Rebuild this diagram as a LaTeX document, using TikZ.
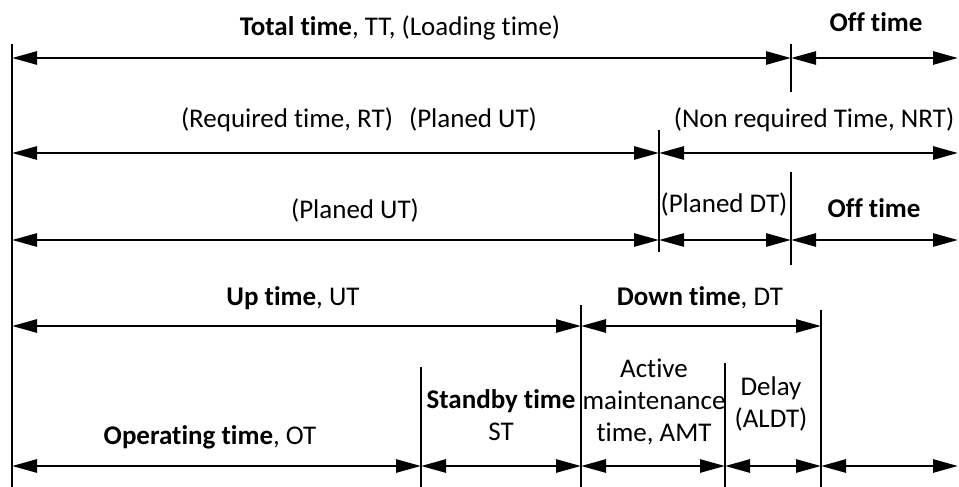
\documentclass[tikz,border=0pt]{standalone}
\usepackage{fontspec}
\setmainfont{Carlito}[Ligatures={NoCommon}]
\usetikzlibrary{arrows.meta}
\begin{document}
\begin{tikzpicture}[x=1pt,y=-1pt,
  span/.style={line width=2.7pt,
    {Triangle[length=25pt,width=13pt]}-{Triangle[length=25pt,width=13pt]}},
  tick/.style={line width=1.3pt},
  lbl/.style={inner sep=0pt,anchor=base,font=\fontsize{27}{32}\selectfont}]
\useasboundingbox (0,0) rectangle (959,487);

% time axis origin and boundary ticks
\coordinate (axTop) at (12,44);   \coordinate (axBot) at (12,487);
\coordinate (t1a) at (791,44);    \coordinate (t1b) at (791,92);
\coordinate (t2a) at (659,130);   \coordinate (t2b) at (659,252);
\coordinate (t3a) at (791,172);   \coordinate (t3b) at (791,265);
\coordinate (t4a) at (581,305);   \coordinate (t4b) at (581,487);
\coordinate (t5a) at (821,310);   \coordinate (t5b) at (821,487);
\coordinate (t6a) at (421,367);   \coordinate (t6b) at (421,487);
\coordinate (t7a) at (725,363);   \coordinate (t7b) at (725,487);
\draw[tick] (axTop) -- (axBot);
\draw[tick] (t1a) -- (t1b);
\draw[tick] (t2a) -- (t2b);
\draw[tick] (t3a) -- (t3b);
\draw[tick] (t4a) -- (t4b);
\draw[tick] (t5a) -- (t5b);
\draw[tick] (t6a) -- (t6b);
\draw[tick] (t7a) -- (t7b);

% row 1: total time / off time
\coordinate (r1L) at (12,58);  \coordinate (r1M) at (791,58); \coordinate (r1R) at (958,58);
\draw[span] (r1L) -- (r1M);
\draw[span] (r1M) -- (r1R);
\node[lbl] (tt) at (400,36) {\textbf{Total time}, TT, (Loading time)};
\node[lbl] (off1) at (876,32) {\textbf{Off time}};

% row 2: required / non required time
\coordinate (r2L) at (12,153); \coordinate (r2M) at (659,153); \coordinate (r2R) at (958,153);
\draw[span] (r2L) -- (r2M);
\draw[span] (r2M) -- (r2R);
\node[lbl] (rt) at (287,128) {(Required time, RT)};
\node[lbl] (put1) at (473,128) {(Planed UT)};
\node[lbl] (nrt) at (814,128) {(Non required Time, NRT)};

% row 3: planned up / planned down / off time
\coordinate (r3L) at (12,240); \coordinate (r3M) at (659,240);
\coordinate (r3N) at (791,240); \coordinate (r3R) at (958,240);
\draw[span] (r3L) -- (r3M);
\draw[span] (r3M) -- (r3N);
\draw[span] (r3N) -- (r3R);
\node[lbl] (put2) at (355,218) {(Planed UT)};
\node[lbl] (pdt) at (724,212) {(Planed DT)};
\node[lbl] (off2) at (874,217) {\textbf{Off time}};

% row 4: up time / down time
\coordinate (r4L) at (12,326); \coordinate (r4M) at (581,326); \coordinate (r4R) at (821,326);
\draw[span] (r4L) -- (r4M);
\draw[span] (r4M) -- (r4R);
\node[lbl] (ut) at (293,305) {\textbf{Up time}, UT};
\node[lbl] (dt) at (700,305) {\textbf{Down time}, DT};

% row 5: breakdown of up and down time
\coordinate (r5L) at (12,466);  \coordinate (r5A) at (421,466);
\coordinate (r5B) at (581,466); \coordinate (r5C) at (725,466);
\coordinate (r5D) at (821,466); \coordinate (r5R) at (958,466);
\draw[span] (r5L) -- (r5A);
\draw[span] (r5A) -- (r5B);
\draw[span] (r5B) -- (r5C);
\draw[span] (r5C) -- (r5D);
\draw[span] (r5D) -- (r5R);
\node[lbl] (ot) at (210,444) {\textbf{Operating time}, OT};
\node[lbl] (st) at (501,408) {\begin{tabular}[t]{@{}c@{}}\textbf{Standby time}\\ST\end{tabular}};
\node[lbl] (amt) at (654,377) {\begin{tabular}[t]{@{}c@{}}Active\\maintenance\\time, AMT\end{tabular}};
\node[lbl] (aldt) at (771,395) {\begin{tabular}[t]{@{}c@{}}Delay\\(ALDT)\end{tabular}};
\end{tikzpicture}
\end{document}
